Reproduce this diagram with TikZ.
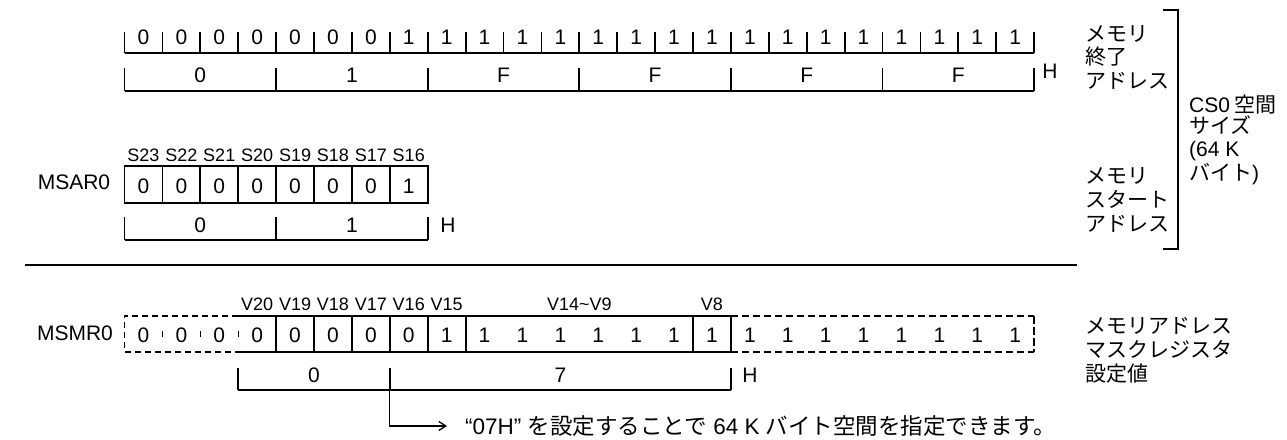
\documentclass[tikz,border=0pt]{standalone}
\usepackage{fontspec}
\setmainfont{Liberation Sans}
\newfontfamily\jp{Noto Sans CJK JP}
\usetikzlibrary{arrows.meta}
\begin{document}
\begin{tikzpicture}[x=1pt,y=-1pt,
  ln/.style={line width=1.8pt},
  thinln/.style={line width=1.3pt},
  txt/.style={inner sep=0pt,anchor=base,font=\fontsize{21}{23}\selectfont},
  small/.style={inner sep=0pt,anchor=base,font=\fontsize{18}{20}\selectfont},
  jtxt/.style={inner sep=0pt,anchor=base west,font=\fontsize{21}{23}\selectfont\jp},
  dashthick/.style={line width=1.8pt,dash pattern=on 6pt off 4pt},
  dashsep/.style={line width=1pt,dash pattern=on 0pt off 15pt on 6pt off 15pt},
  dashthin/.style={line width=1.3pt,dash pattern=on 7pt off 4pt},
]
\useasboundingbox (0,0) rectangle (1287,439);
\def\X#1{124.5+(#1)*37.9}

% ---------- memory end address (24 bits) ----------
\foreach \i in {0,...,24} {
  \coordinate (ta\i) at ({\X{\i}},32);
  \coordinate (tb\i) at ({\X{\i}},53);
  \draw[ln] (ta\i) -- (tb\i);
}
\draw[ln] (tb0) -- (tb24);
\foreach \i in {0,...,23} {
  \ifnum\i<7 \def\v{0}\else\def\v{1}\fi
  \node[txt] (tv\i) at ({\X{\i+0.5}},44.5) {\v};
}
% hex of end address
\foreach \i in {0,4,...,24} {
  \coordinate (ha\i) at ({\X{\i}},68);
  \coordinate (hb\i) at ({\X{\i}},91);
  \draw[ln] (ha\i) -- (hb\i);
}
\draw[ln] (hb0) -- (hb24);
\foreach \i/\v in {2/0,6/1,10/F,14/F,18/F,22/F}
  \node[txt] (hv\i) at ({\X{\i}},82.5) {\v};
\node[txt] (hH) at (1050,78.5) {H};

% ---------- MSAR0 ----------
\node[txt] (msar) at (74,189.5) {MSAR0};
\coordinate (sa0) at ({\X0},166);
\coordinate (sb8) at ({\X8},203);
\draw[ln] (sa0) rectangle (sb8);
\foreach \i in {1,...,7} {
  \coordinate (sa\i) at ({\X{\i}},166);
  \coordinate (sb\i) at ({\X{\i}},203);
  \draw[ln] (sa\i) -- (sb\i);
}
\foreach \i/\s in {0/23,1/22,2/21,3/20,4/19,5/18,6/17,7/16} {
  \ifnum\i<7 \def\v{0}\else\def\v{1}\fi
  \node[txt] (sv\i) at ({\X{\i+0.5}},193.5) {\v};
  \node[small] (sl\i) at ({\X{\i+0.5}},161.5) {S\s};
}
\foreach \i in {0,4,8} {
  \coordinate (sha\i) at ({\X{\i}},217);
  \coordinate (shb\i) at ({\X{\i}},240);
  \draw[ln] (sha\i) -- (shb\i);
}
\draw[ln] (shb0) -- (shb8);
\node[txt] (shv0) at ({\X2},232.5) {0};
\node[txt] (shv1) at ({\X6},232.5) {1};
\node[txt] (shH) at (448,232.5) {H};

% ---------- separator ----------
\coordinate (sepL) at (25,265);
\coordinate (sepR) at (1077,265);
\draw[ln] (sepL) -- (sepR);

% ---------- MSMR0 ----------
\node[txt] (msmr) at (75,340.5) {MSMR0};
\foreach \i in {0,...,24} {
  \coordinate (ma\i) at ({\X{\i}},316);
  \coordinate (mb\i) at ({\X{\i}},352);
}
\draw[dashthick] (ma3) -- (ma0) -- (mb0) -- (mb3);
\foreach \i in {1,2,3} \draw[dashsep] (ma\i) -- (mb\i);
\draw[ln] (ma3) -- (ma16) -- (mb16) -- (mb3);
\foreach \i in {4,...,9,15} \draw[ln] (ma\i) -- (mb\i);
\draw[dashthin] (ma16) -- (ma24);
\draw[dashthin] (mb16) -- (mb24);
\draw[line width=2.2pt,dash pattern=on 8pt off 3pt] (ma24) -- (mb24);
\foreach \i in {0,...,23} {
  \ifnum\i<8 \def\v{0}\else\def\v{1}\fi
  \node[txt] (mv\i) at ({\X{\i+0.5}},342.5) {\v};
}
\foreach \i/\s in {3/20,4/19,5/18,6/17,7/16,8/15}
  \node[small] (ml\i) at ({\X{\i+0.5}},310.5) {V\s};
\node[small] (mlmid) at ({\X{12}},310.5) {V14\textasciitilde V9};
\node[small] (ml15) at ({\X{15.5}},310.5) {V8};
% hex of mask
\foreach \i in {3,7,16} {
  \coordinate (mha\i) at ({\X{\i}},368);
  \coordinate (mhb\i) at ({\X{\i}},390);
  \draw[ln] (mha\i) -- (mhb\i);
}
\draw[ln] (mhb3) -- (mhb16);
\node[txt] (mhv0) at ({\X5},382.5) {0};
\node[txt] (mhv7) at ({\X{11.5}},382.5) {7};
\node[txt] (mhH) at (750,382.5) {H};

% ---------- note with arrow ----------
\coordinate (ae) at (447,426);
\draw[thinln,-{Straight Barb[length=7pt,width=9pt]}] (mhb7) |- (ae);
\node[inner sep=0pt,anchor=base west,font=\fontsize{22.5}{25}\selectfont] (note) at (465,434)
  {“07H” {\jp を設定することで} 64 K {\jp バイト空間を指定できます。}};

% ---------- right-hand texts ----------
\node[jtxt] (e1) at (1085,41.5) {メモリ};
\node[jtxt] (e2) at (1085,64.7) {終了};
\node[jtxt] (e3) at (1085,88) {アドレス};
\node[jtxt] (c1) at (1189,112) {{\rmfamily CS0} 空間};
\node[jtxt] (c2) at (1189,133) {サイズ};
\node[jtxt] (c3) at (1189,156) {\rmfamily (64 K};
\node[jtxt] (c4) at (1189,180) {バイト{\rmfamily )}};
\node[jtxt] (s1) at (1085,183) {メモリ};
\node[jtxt] (s2) at (1085,207) {スタート};
\node[jtxt] (s3) at (1085,231) {アドレス};
\node[jtxt] (m1) at (1085,333) {メモリアドレス};
\node[jtxt] (m2) at (1085,357.5) {マスクレジスタ};
\node[jtxt] (m3) at (1085,381.5) {設定値};
% bracket
\coordinate (bt) at (1163,10);
\coordinate (bb) at (1163,249);
\draw[ln] (bt) -- (1178,10) -- (1178,249) -- (bb);
\end{tikzpicture}
\end{document}
